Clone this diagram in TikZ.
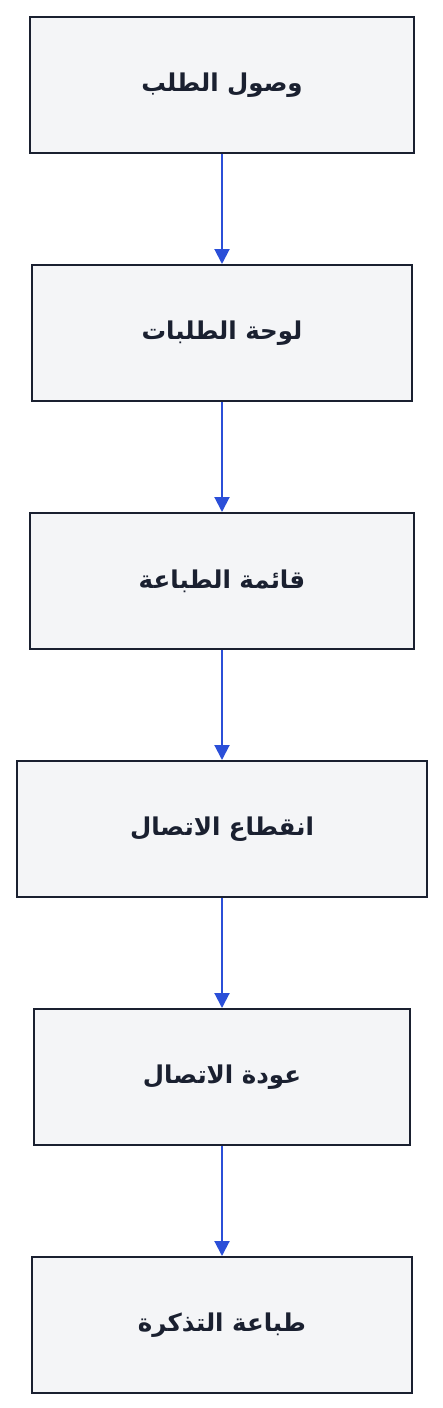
\documentclass[tikz,border=0pt]{standalone}
\usepackage{fontspec}
\TeXXeTstate=1
\newfontfamily\arabicfont[Script=Arabic]{DejaVu Sans}
\usetikzlibrary{arrows.meta}
\definecolor{boxfill}{HTML}{F4F5F7}
\definecolor{boxline}{HTML}{1A2030}
\definecolor{arrowblue}{HTML}{2B4FD8}
\tikzset{
  stagebox/.style={draw=boxline, fill=boxfill, line width=2pt, inner sep=0pt, anchor=north west},
  flowarrow/.style={draw=arrowblue, line width=2pt, -{Triangle[length=15pt,width=15pt]}},
  stagelabel/.style={font=\arabicfont\bfseries\fontsize{24.5}{28}\selectfont, text=boxline}
}
\begin{document}
\begin{tikzpicture}[x=1pt,y=-1pt]
\useasboundingbox[fill=white] (0,0) rectangle (442,1408);
\node[stagebox, minimum width=384pt, minimum height=136pt] (a) at (29,16) {};
\node[stagebox, minimum width=380pt, minimum height=136pt] (b) at (31,264) {};
\node[stagebox, minimum width=384pt, minimum height=136pt] (c) at (29,512) {};
\node[stagebox, minimum width=410pt, minimum height=136pt] (d) at (16,760) {};
\node[stagebox, minimum width=376pt, minimum height=136pt] (e) at (33,1008) {};
\node[stagebox, minimum width=380pt, minimum height=136pt] (f) at (31,1256) {};
\node[stagelabel] at (a.center) {\beginR وصول الطلب\endR};
\node[stagelabel] at (b.center) {\beginR لوحة الطلبات\endR};
\node[stagelabel] at (c.center) {\beginR قائمة الطباعة\endR};
\node[stagelabel] at (d.center) {\beginR انقطاع الاتصال\endR};
\node[stagelabel] at (e.center) {\beginR عودة الاتصال\endR};
\node[stagelabel] at (f.center) {\beginR طباعة التذكرة\endR};
\draw[flowarrow] (a.south) -- (b.north);
\draw[flowarrow] (b.south) -- (c.north);
\draw[flowarrow] (c.south) -- (d.north);
\draw[flowarrow] (d.south) -- (e.north);
\draw[flowarrow] (e.south) -- (f.north);
\end{tikzpicture}
\end{document}
